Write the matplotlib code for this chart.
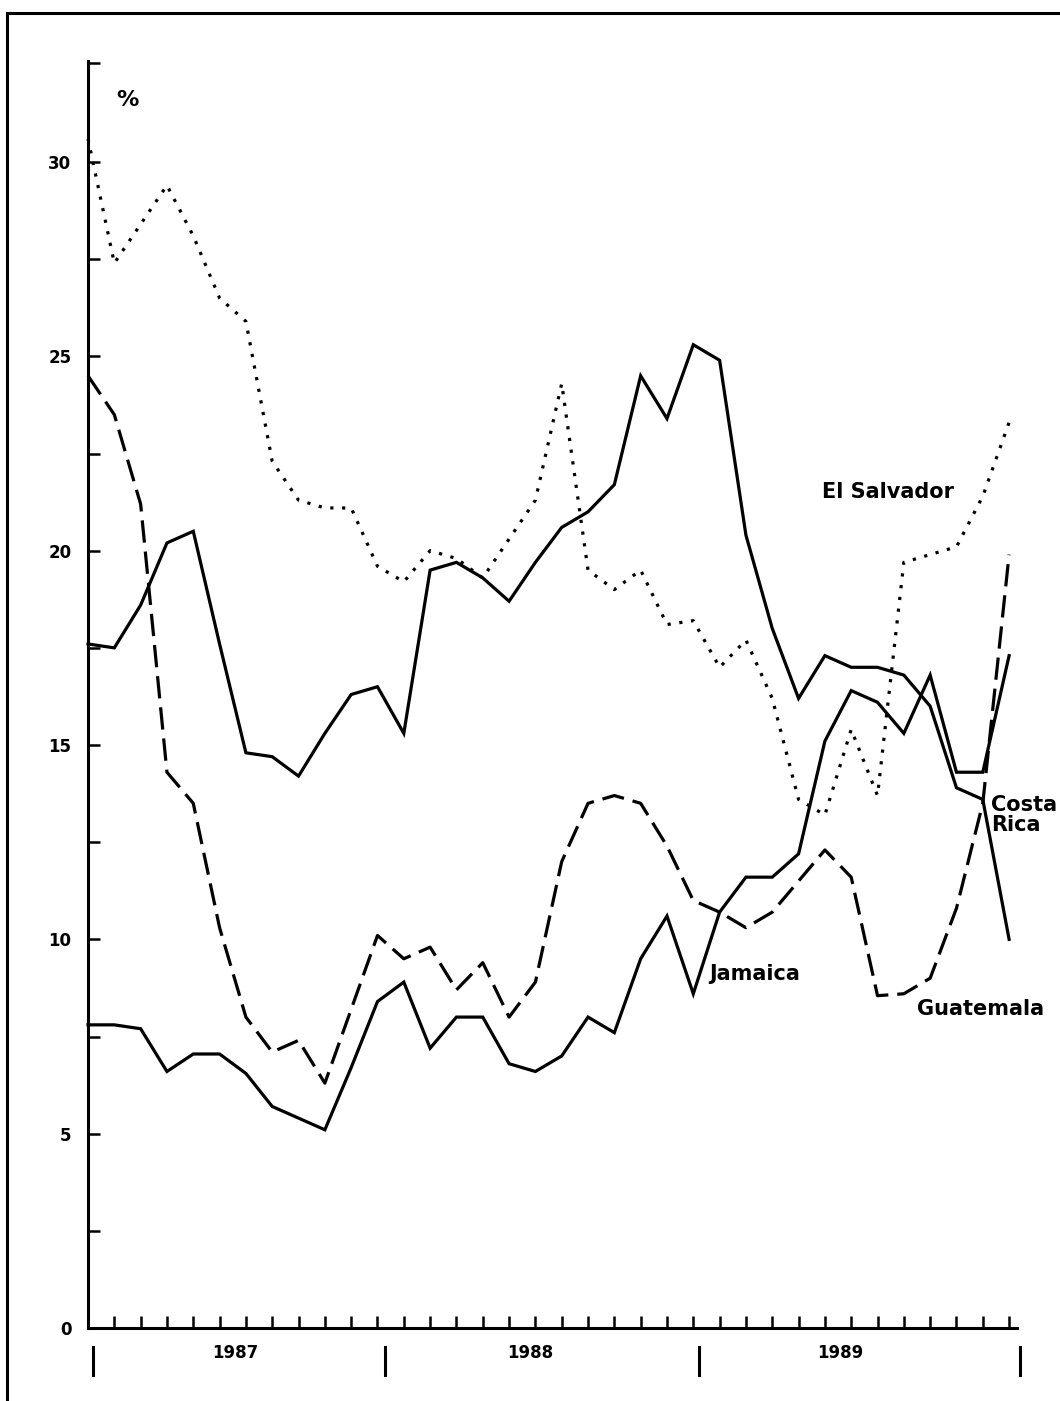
import matplotlib.pyplot as plt
import numpy as np
from matplotlib.lines import Line2D
from matplotlib.transforms import blended_transform_factory

plt.rcParams['font.family'] = ['DejaVu Sans']
plt.rcParams['font.weight'] = 'bold'

# monthly values, Jan 1987 - Dec 1989
months = np.arange(36)

el_salvador = [30.6, 27.4, 28.4, 29.4, 28.1, 26.5, 25.9, 22.3, 21.3, 21.1, 21.1, 19.6,
               19.2, 20.0, 19.8, 19.3, 20.3, 21.3, 24.3, 19.5, 19.0, 19.5, 18.1, 18.2,
               17.0, 17.7, 16.2, 13.6, 13.2, 15.4, 13.7, 19.7, 19.9, 20.1, 21.4, 23.3]

costa_rica = [17.6, 17.5, 18.6, 20.2, 20.5, 17.6, 14.8, 14.7, 14.2, 15.3, 16.3, 16.5,
              15.3, 19.5, 19.7, 19.3, 18.7, 19.7, 20.6, 21.0, 21.7, 24.5, 23.4, 25.3,
              24.9, 20.4, 18.0, 16.2, 17.3, 17.0, 17.0, 16.8, 16.0, 13.9, 13.6, 10.0]

jamaica = [7.8, 7.8, 7.7, 6.6, 7.05, 7.05, 6.55, 5.7, 5.4, 5.1, 6.7, 8.4,
           8.9, 7.2, 8.0, 8.0, 6.8, 6.6, 7.0, 8.0, 7.6, 9.5, 10.6, 8.6,
           10.7, 11.6, 11.6, 12.2, 15.1, 16.4, 16.1, 15.3, 16.8, 14.3, 14.3, 17.3]

guatemala = [24.5, 23.5, 21.2, 14.3, 13.5, 10.3, 8.0, 7.1, 7.4, 6.3, 8.2, 10.1,
             9.5, 9.8, 8.7, 9.4, 8.0, 8.9, 12.0, 13.5, 13.7, 13.5, 12.4, 11.0,
             10.7, 10.3, 10.7, 11.5, 12.3, 11.6, 8.55, 8.6, 9.0, 10.8, 13.5, 19.9]

years = ["1987", "1988", "1989"]
year_centres = [5.6, 16.8, 28.6]
year_breaks = [0.2, 11.3, 23.2, 35.4]

fig = plt.figure(figsize=(10.6, 14.01), dpi=100)
ax = fig.add_axes([88 / 1060, 1 - 1328 / 1401, 929 / 1060, 1267 / 1401])

lw = 2.3
ax.plot(months, el_salvador, color='black', lw=lw, linestyle=(0, (1.0, 2.7)),
        dash_capstyle='butt', clip_on=False)
ax.plot(months, costa_rica, color='black', lw=lw, solid_joinstyle='miter', clip_on=False)
ax.plot(months, jamaica, color='black', lw=lw, solid_joinstyle='miter', clip_on=False)
ax.plot(months, guatemala, color='black', lw=lw, linestyle=(0, (7.0, 2.8)),
        clip_on=False)

ax.set_xlim(0, 35.3)
ax.set_ylim(0, 32.6)
for side in ['top', 'right']:
    ax.spines[side].set_visible(False)
for side in ['left', 'bottom']:
    ax.spines[side].set_linewidth(2.2)

ax.set_xticks(range(1, 36))
ax.set_xticklabels([])
ax.tick_params(axis='x', direction='in', length=8.5, width=1.8)

ax.set_yticks(range(0, 31, 5))
ax.set_yticks(list(np.arange(2.5, 30, 5)) + [32.55], minor=True)
ax.tick_params(axis='y', which='both', direction='in', length=8.5, width=1.8,
               labelsize=12, pad=12)

# year bands under the time axis
trans = blended_transform_factory(ax.transData, ax.transAxes)
for xb in year_breaks:
    ax.plot([xb, xb], [-0.015, -0.037], color='black', lw=2.2,
            transform=trans, clip_on=False)
for xc, yr in zip(year_centres, years):
    ax.text(xc, -0.0197, yr, transform=trans, ha='center', va='center',
            fontsize=12, fontweight='bold')

ax.text(1.5, 31.6, "%", fontsize=16, fontweight='bold', ha='center', va='center')

lab = dict(fontsize=15, fontweight='bold', va='center', ha='left', clip_on=False)
ax.text(27.9, 21.5, "El Salvador", **lab)
ax.text(23.6, 9.1, "Jamaica", **lab)
ax.text(31.5, 8.2, "Guatemala", **lab)
ax.text(34.3, 13.2, "Costa\nRica", linespacing=0.95, **lab)

# outer frame
fig.add_artist(Line2D([0.007, 0.007], [0, 0.991], color='black', lw=2.2))
fig.add_artist(Line2D([0.007, 1.0], [0.991, 0.991], color='black', lw=2.2))

fig.savefig("out.png", dpi=100, facecolor='white')
